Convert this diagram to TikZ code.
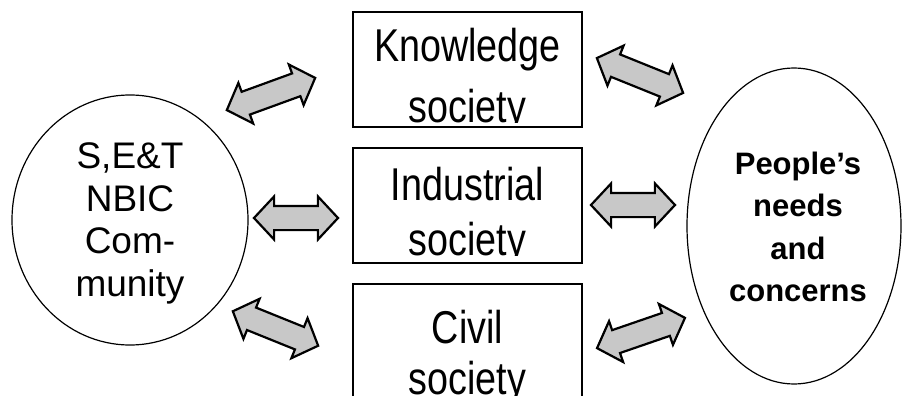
\documentclass[tikz,border=0pt]{standalone}
\usepackage{fontspec}
\newfontfamily\arialfont{Liberation Sans}
\newfontfamily\narrowfont[FakeStretch=0.82]{Liberation Sans}
\usetikzlibrary{shapes.geometric}
\usetikzlibrary{shapes.arrows}

\tikzset{
  societybox/.style={draw={rgb, 255:red, 0; green, 0; blue, 0}, line width=1.6, minimum width=229, minimum height=115, inner sep=0},
  boxtext/.style={anchor=base, inner sep=0, font=\narrowfont\fontsize{46}{50}\selectfont},
  groupshape/.style={ellipse, draw={rgb, 255:red, 0; green, 0; blue, 0}, line width=1.2, inner sep=0},
  blockarrow/.style={double arrow, draw={rgb, 255:red, 0; green, 0; blue, 0}, line width=2.2,
    fill={rgb, 255:red, 200; green, 200; blue, 200}, inner xsep=0, inner ysep=11, minimum width=0,
    double arrow head extend=9.5, double arrow tip angle=94}
}

\begin{document}
\begin{tikzpicture}[x=1pt,y=1pt,yscale=-1,xscale=1]
\useasboundingbox (0,0) rectangle (903,396);

%Shape: Ellipse
\node [groupshape, minimum width=236, minimum height=250] (scomm) at (130,220) {};
%Shape: Ellipse
\node [groupshape, minimum width=214, minimum height=316] (people) at (794,226) {};

%Shape: Rectangle
\node [societybox] (know) at (467.5,69.5) {};
%Shape: Rectangle
\node [societybox] (indus) at (467.5,205.5) {};
%Shape: Rectangle
\node [societybox, minimum height=124] (civil) at (467.5,346) {};

%Shape: Double Arrow
\node [blockarrow, minimum height=94, rotate=20] (arrKnowL) at (271,94) {};
%Shape: Double Arrow
\node [blockarrow, minimum height=93, rotate=-22] (arrKnowR) at (640,75.5) {};
%Shape: Double Arrow
\node [blockarrow, minimum height=84] (arrIndusL) at (296,218) {};
%Shape: Double Arrow
\node [blockarrow, minimum height=84] (arrIndusR) at (633,205) {};
%Shape: Double Arrow
\node [blockarrow, minimum height=92, rotate=-22] (arrCivilL) at (275.5,328.5) {};
%Shape: Double Arrow
\node [blockarrow, minimum height=93, rotate=19] (arrCivilR) at (641,333) {};

% Text Node
\draw (130,223.6) node [align=center, inner sep=0, font=\arialfont\fontsize{37}{42.5}\selectfont] (scommtext) {S,E\&T\\NBIC\\Com-\\munity};
% Text Node
\draw (798,227) node [align=center, inner sep=0, font=\arialfont\bfseries\fontsize{31}{42.3}\selectfont] (peopletext) {People’s\\needs\\and\\concerns};

% Text Node
\begin{scope}
\clip (353,12) rectangle (582,122.5);
\draw (467.5,62) node [boxtext] (knowtop) {Knowledge};
\draw (467.5,122) node [boxtext] (knowbot) {society};
\end{scope}
% Text Node
\begin{scope}
\clip (353,148) rectangle (582,255.5);
\draw (467.5,200) node [boxtext] (industop) {Industrial};
\draw (467.5,255) node [boxtext] (indusbot) {society};
\end{scope}
% Text Node
\draw (467.5,343) node [boxtext] (civiltop) {Civil};
\draw (467.5,394) node [boxtext] (civilbot) {society};

\end{tikzpicture}
\end{document}
